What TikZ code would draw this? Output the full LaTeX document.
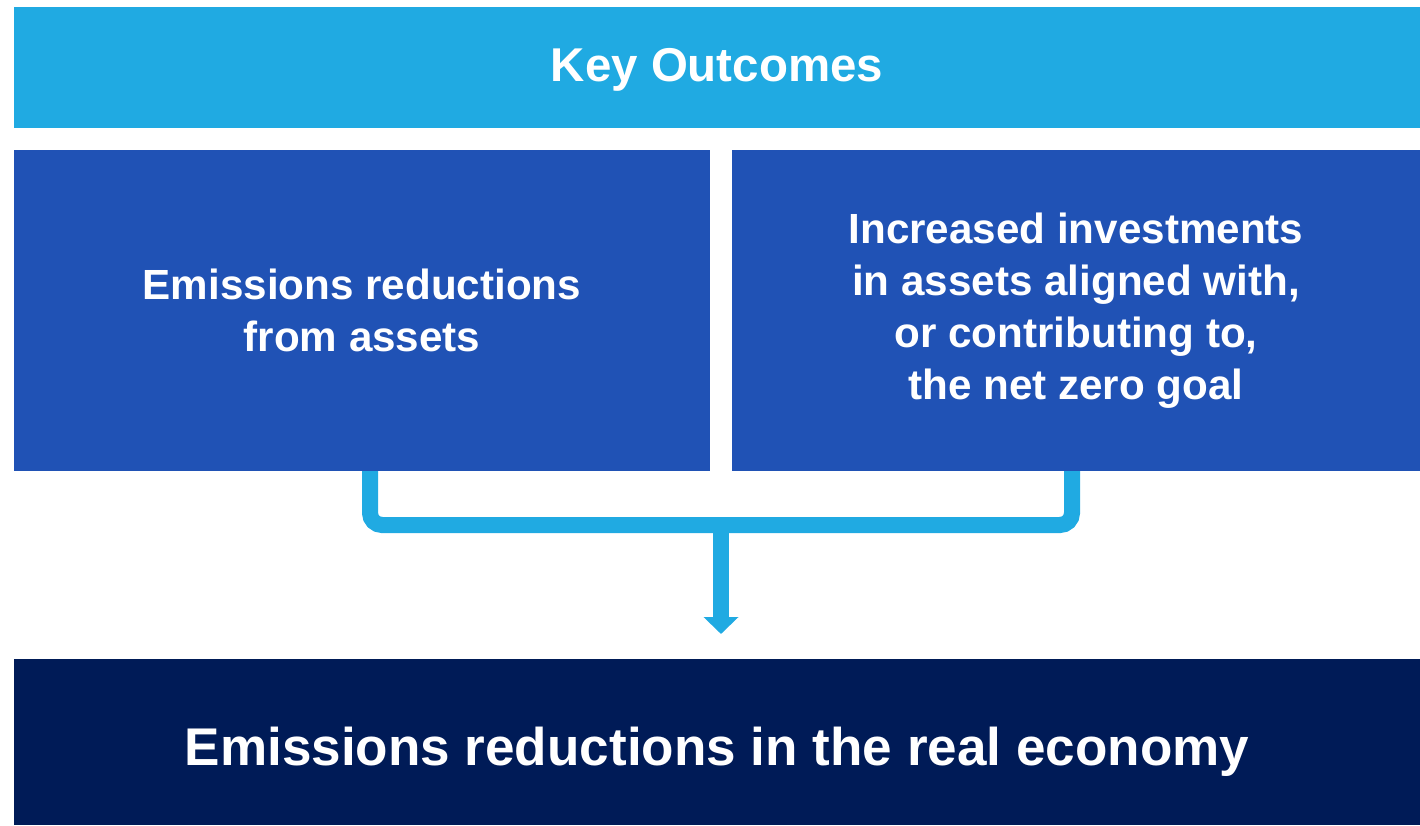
\documentclass[tikz,border=0pt]{standalone}
\usepackage{fontspec}
\setmainfont{Liberation Sans}
\usetikzlibrary{arrows.meta, calc}

\definecolor{skyblue}{RGB}{32,170,226}
\definecolor{midblue}{RGB}{32,82,181}
\definecolor{navyblue}{RGB}{0,27,87}

\tikzset{
  hdr/.style = {
    fill=skyblue, text=white, inner sep=0pt, outer sep=0pt,
    minimum width=14.06cm, minimum height=1.21cm,
    text height=0.29cm, text depth=0pt,
    font=\fontsize{13.5}{16}\selectfont\bfseries
  },
  outc/.style = {
    fill=midblue, text=white, inner sep=0pt, outer sep=0pt,
    minimum height=3.21cm, align=center,
    font=\fontsize{12}{14.8}\selectfont\bfseries
  },
  goal/.style = {
    fill=navyblue, text=white, inner sep=0pt, outer sep=0pt,
    minimum width=14.06cm, minimum height=1.66cm,
    text height=0.46cm, text depth=0pt,
    font=\fontsize{15.1}{18}\selectfont\bfseries
  },
  lnk/.style = {skyblue, line width=0.16cm, rounded corners=0.12cm},
  arr/.style = {-{Triangle[length=0.17cm,width=0.34cm]},
                skyblue, line width=0.16cm}
}

\begin{document}
\begin{tikzpicture}
  \useasboundingbox (0,0) rectangle (14.2,8.25);

  %% Header bar
  \node[hdr] (key) at (7.17,7.575) {Key Outcomes};

  %% The two outcomes
  \node[outc, minimum width=6.96cm] (emis) at (3.62,5.145)
    {Emissions reductions\\from assets};
  \node[outc, minimum width=6.88cm] (invest) at (10.76,5.145)
    {Increased investments\\in assets aligned with,\\or contributing to,\\the net zero goal};

  %% Result
  \node[goal] (real) at (7.17,0.83) {Emissions reductions in the real economy};

  %% Bracket joining both outcomes, then the arrow down
  \coordinate (l) at ($(emis.south)+(0.08,0)$);
  \coordinate (r) at ($(invest.south)+(-0.04,0)$);
  \coordinate (join) at ($(l)!0.5!(r) + (0,-0.54)$);
  \draw[lnk] (l) |- (join) -| (r);
  \draw[arr, shorten >=0.25cm] ($(join)+(0,0.08)$) -- (join |- real.north);
\end{tikzpicture}
\end{document}
